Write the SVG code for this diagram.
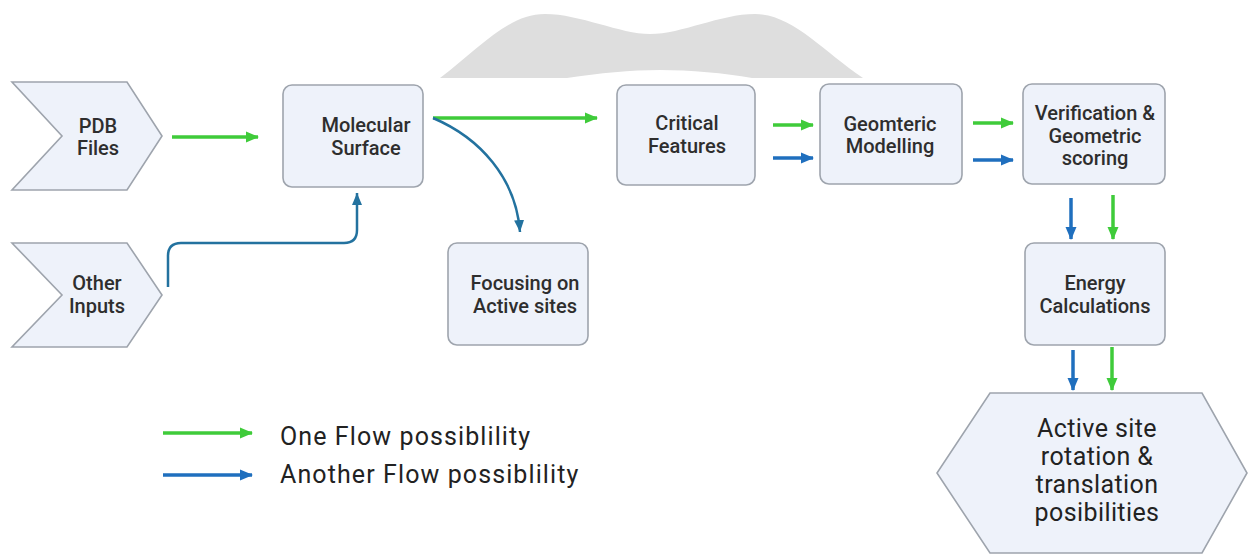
<svg xmlns="http://www.w3.org/2000/svg" width="1248" height="556" viewBox="0 0 1248 556">
<style>
.node{fill:#eef2fa;stroke:#9ea4ad;stroke-width:1.6}
.t{font-family:Roboto,"Liberation Sans",sans-serif;font-size:20px;fill:#2e2e2e;text-anchor:middle;font-weight:500}
.big{font-size:25px;font-weight:400;fill:#222;letter-spacing:0.4px}
.leg{font-family:Roboto,"Liberation Sans",sans-serif;font-size:25px;fill:#222;letter-spacing:1.1px}
.g{stroke:#3fcb3a;stroke-width:3.5;fill:none}
.b{stroke:#1f6fbe;stroke-width:3.5;fill:none}
.bt{stroke:#23729f;stroke-width:2.5;fill:none}
</style>
<defs>
<marker id="ag" markerUnits="userSpaceOnUse" markerWidth="14" markerHeight="14" refX="12" refY="7" orient="auto"><path d="M0,1.5 L13,7 L0,12.5 Z" fill="#3fcb3a"/></marker>
<marker id="ab" markerUnits="userSpaceOnUse" markerWidth="14" markerHeight="14" refX="12" refY="7" orient="auto"><path d="M0,1.5 L13,7 L0,12.5 Z" fill="#1f6fbe"/></marker>
<marker id="at" markerUnits="userSpaceOnUse" markerWidth="14" markerHeight="14" refX="12" refY="7" orient="auto"><path d="M0,2 L12,7 L0,12 Z" fill="#23729f"/></marker>
</defs>
<rect width="1248" height="556" fill="#ffffff"/>
<path d="M440,78 C480,48 508,14 545,14 C580,14 620,34 650,34 C682,34 720,14 755,14 C792,14 822,50 863,78 L752,78 C725,73 690,70 660,70 C630,70 600,73 567,78 Z" fill="#dedede"/>
<g id="pdb"><path class="node" d="M12,82 L127,82 L162,136 L127,190 L12,190 L62,136 Z"/><text class="t" x="98" y="133">PDB</text><text class="t" x="98" y="155">Files</text></g>
<g id="other"><path class="node" d="M12,243 L127,243 L162,295 L127,347 L12,347 L62,295 Z"/><text class="t" x="97" y="290">Other</text><text class="t" x="97" y="313">Inputs</text></g>
<g id="molecular"><rect class="node" x="283" y="85" width="140" height="102" rx="9"/><text class="t" x="366" y="132">Molecular</text><text class="t" x="366" y="155">Surface</text></g>
<g id="focusing"><rect class="node" x="448" y="243" width="140" height="102" rx="9"/><text class="t" x="525" y="290">Focusing on</text><text class="t" x="525" y="313">Active sites</text></g>
<g id="critical"><rect class="node" x="617" y="85" width="138" height="100" rx="9"/><text class="t" x="687" y="130">Critical</text><text class="t" x="687" y="153">Features</text></g>
<g id="geom"><rect class="node" x="820" y="84" width="142" height="100" rx="9"/><text class="t" x="890" y="131">Geomteric</text><text class="t" x="890" y="153">Modelling</text></g>
<g id="verif"><rect class="node" x="1023" y="84" width="142" height="100" rx="9"/><text class="t" x="1095" y="120">Verification &amp;</text><text class="t" x="1095" y="143">Geometric</text><text class="t" x="1095" y="165">scoring</text></g>
<g id="energy"><rect class="node" x="1025" y="243" width="140" height="102" rx="9"/><text class="t" x="1095" y="290">Energy</text><text class="t" x="1095" y="313">Calculations</text></g>
<g id="active"><path class="node" d="M990,393 L1202,393 L1247,473 L1202,553 L990,553 L937,473 Z"/><text class="t big" x="1097" y="437">Active site</text><text class="t big" x="1097" y="465">rotation &amp;</text><text class="t big" x="1097" y="493">translation</text><text class="t big" x="1097" y="521">posibilities</text></g>
<g id="connectors">
<line class="g" x1="172" y1="137" x2="258" y2="137" marker-end="url(#ag)"/>
<line class="g" x1="433" y1="118" x2="597" y2="118" marker-end="url(#ag)"/>
<path class="bt" d="M433,118 C480,138 516,178 520,232" marker-end="url(#at)"/>
<path class="bt" d="M168,287 L168,256 Q168,243 181,243 L344,243 Q357,243 357,230 L357,193" marker-end="url(#at)"/>
<line class="g" x1="773" y1="125" x2="813" y2="125" marker-end="url(#ag)"/>
<line class="b" x1="773" y1="158" x2="813" y2="158" marker-end="url(#ab)"/>
<line class="g" x1="973" y1="123" x2="1013" y2="123" marker-end="url(#ag)"/>
<line class="b" x1="973" y1="160" x2="1013" y2="160" marker-end="url(#ab)"/>
<line class="b" x1="1071" y1="198" x2="1071" y2="239" marker-end="url(#ab)"/>
<line class="g" x1="1113" y1="195" x2="1113" y2="239" marker-end="url(#ag)"/>
<line class="b" x1="1073" y1="350" x2="1073" y2="390" marker-end="url(#ab)"/>
<line class="g" x1="1112" y1="347" x2="1112" y2="390" marker-end="url(#ag)"/>
<line class="g" x1="163" y1="433" x2="252" y2="433" marker-end="url(#ag)"/>
<line class="b" x1="163" y1="475" x2="252" y2="475" marker-end="url(#ab)"/>
</g>
<g id="legend"><text class="leg" x="280" y="445">One Flow possiblility</text><text class="leg" x="280" y="483">Another Flow possiblility</text></g>
</svg>
